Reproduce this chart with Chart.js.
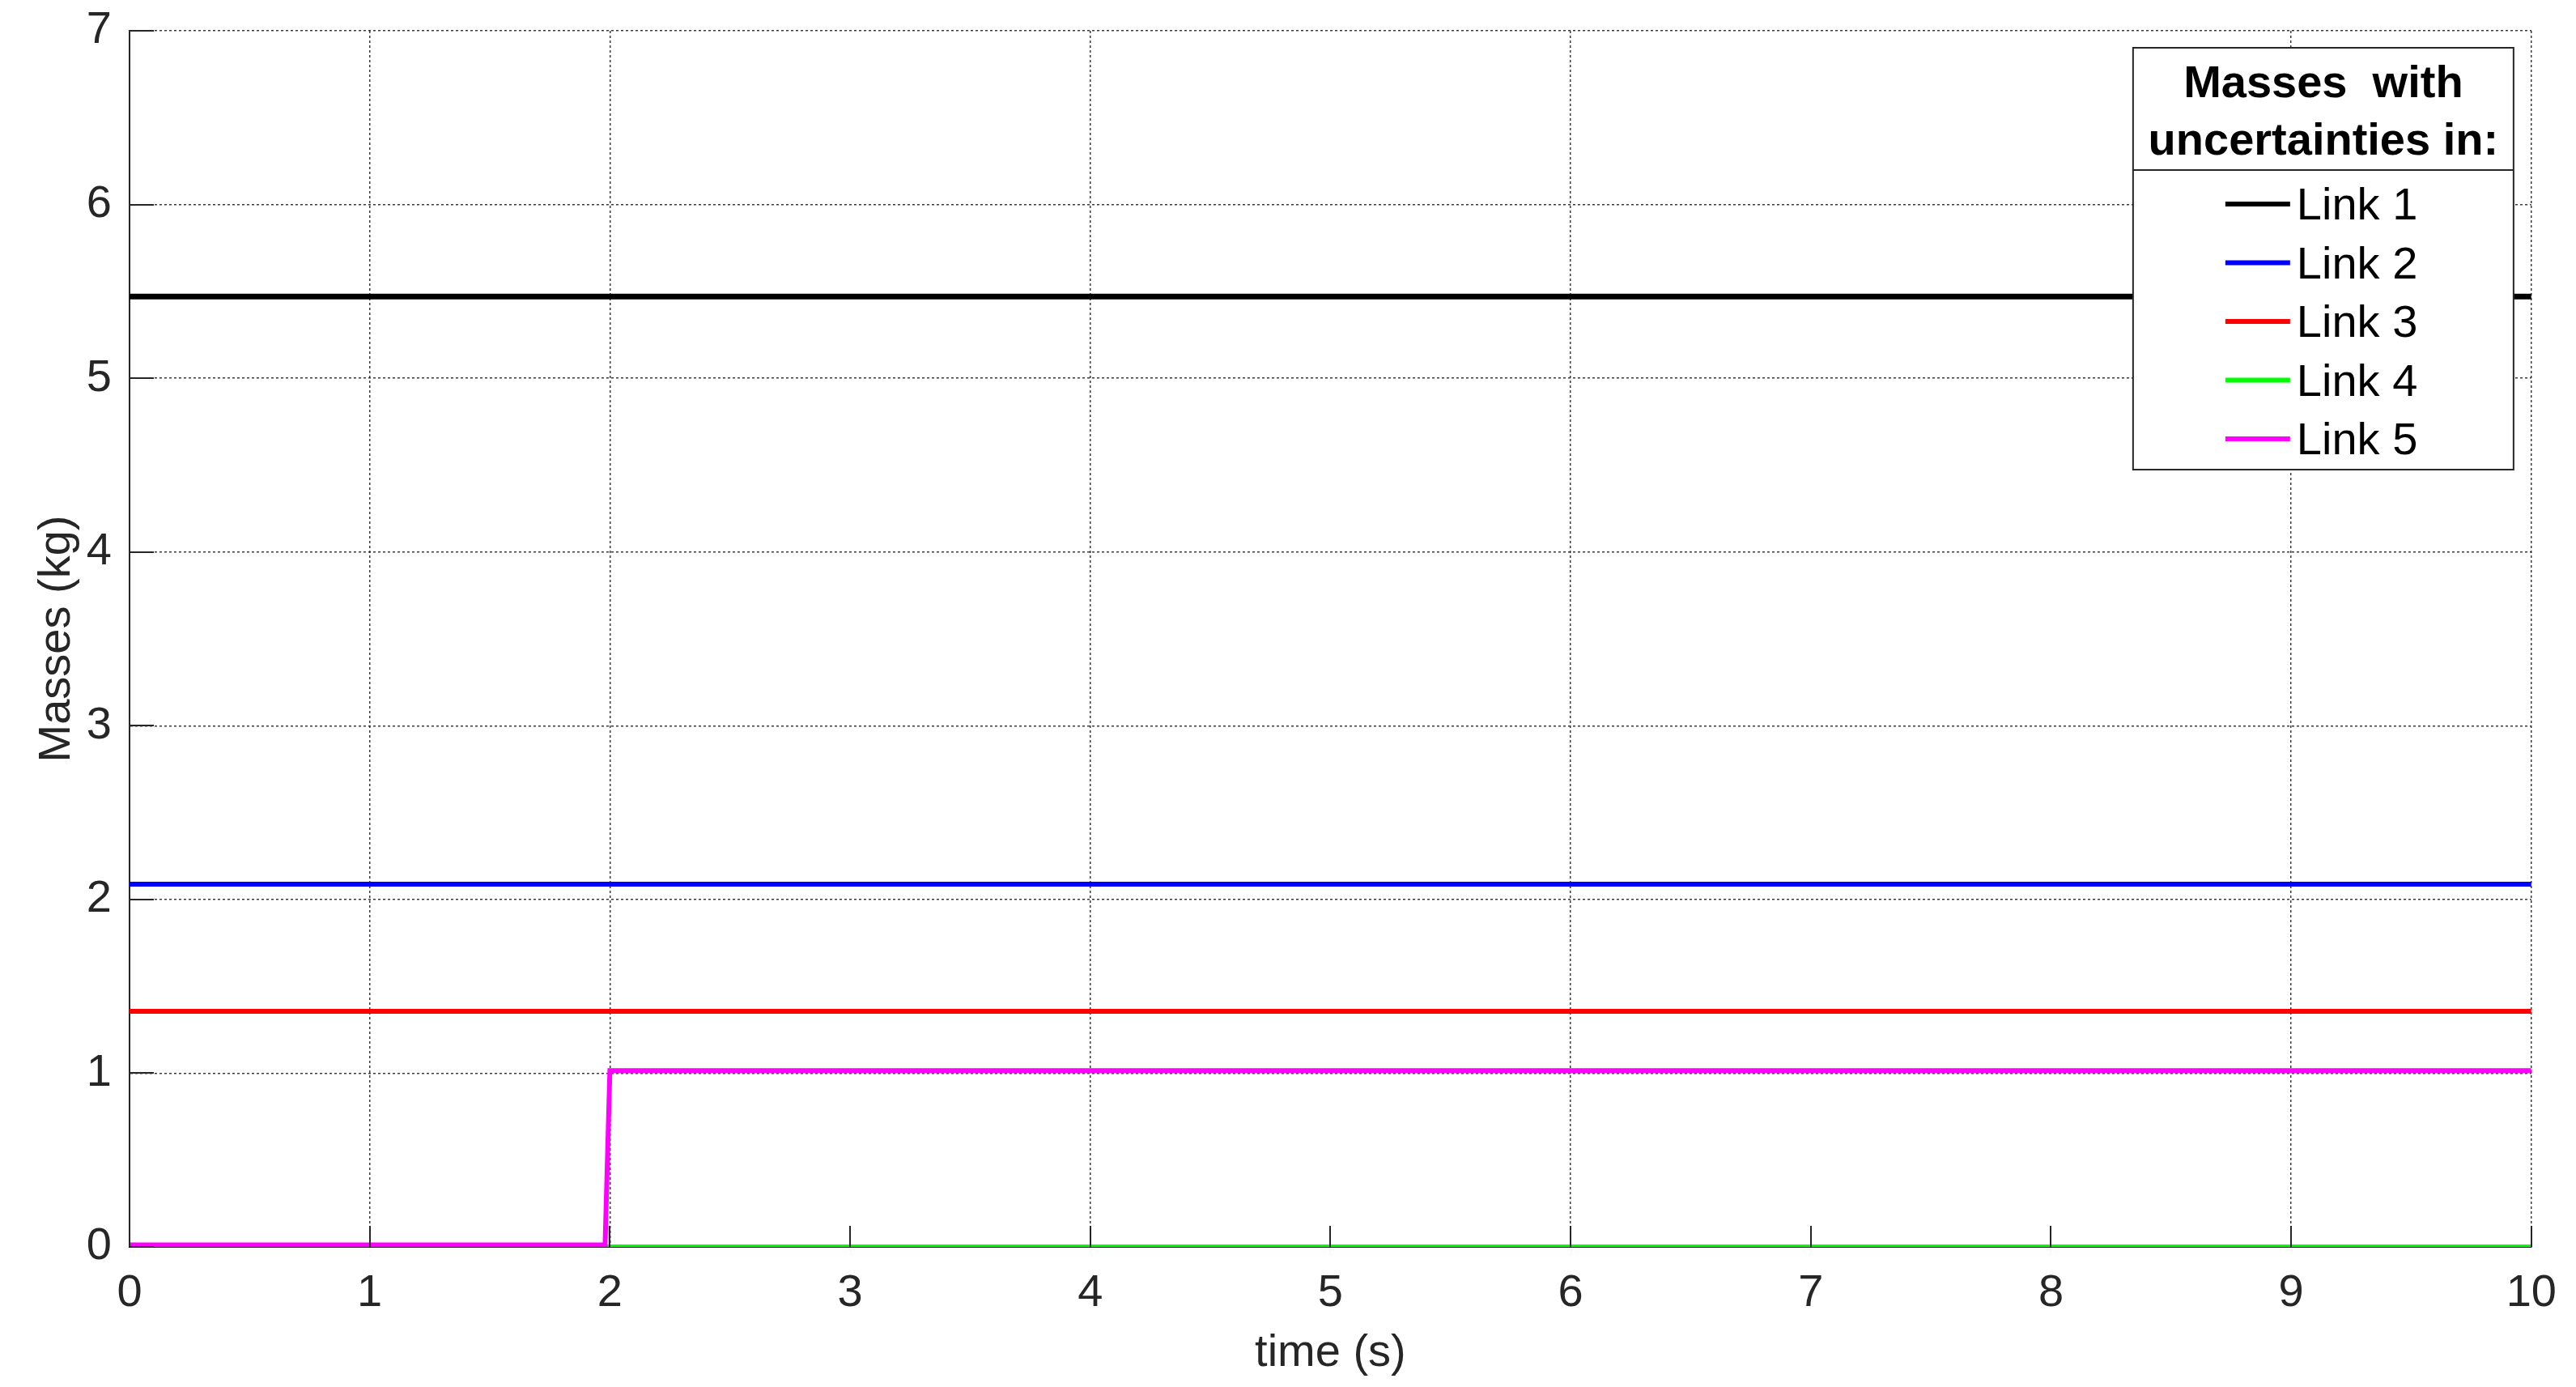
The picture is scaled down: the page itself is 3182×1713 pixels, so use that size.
<!DOCTYPE html>
<html>
<head>
  <title>Masses with uncertainties</title>
  <script src="https://cdn.jsdelivr.net/npm/chart.js"></script>
  <style>
    html, body { margin: 0; padding: 0; background: #fff; }
    #wrap { width: 3182px; height: 1713px; }
  </style>
</head>
<body>
  <div id="wrap"><canvas id="massChart" width="3182" height="1713"></canvas></div>

  <script>
    // data
    const linkLabels = ['Link 1', 'Link 2', 'Link 3', 'Link 4', 'Link 5'];
    const linkColors = ['#000000', '#0000ff', '#ff0000', '#00ff00', '#ff00ff'];
    const link1Time = [0, 10];
    const link1Mass = [5.47, 5.47];
    const link2Time = [0, 10];
    const link2Mass = [2.088, 2.088];
    const link3Time = [0, 10];
    const link3Mass = [1.356, 1.356];
    const link4Time = [0, 10];
    const link4Mass = [0, 0];
    const link5Time = [0, 1.98, 2.0, 10];
    const link5Mass = [0.012, 0.012, 1.015, 1.015];

    const xTicks = [0, 1, 2, 3, 4, 5, 6, 7, 8, 9, 10];
    const yTicks = [0, 1, 2, 3, 4, 5, 6, 7];
    const xGridShown = [1, 2, 4, 6, 9, 10]; // the vertical grid lines that show in the picture
    const legendTitle = ['Masses  with', 'uncertainties in:'];

    const FONT = '"Liberation Sans", Arial, sans-serif';
    const INK = '#262626';
    const GRID = 'rgba(38,38,38,0.9)';

    const toPoints = (t, m) => t.map((v, i) => ({ x: v, y: m[i] }));
    const series = [
      toPoints(link1Time, link1Mass),
      toPoints(link2Time, link2Mass),
      toPoints(link3Time, link3Mass),
      toPoints(link4Time, link4Mass),
      toPoints(link5Time, link5Mass)
    ];

    // MATLAB style ticks pointing into the axes
    const innerTicks = {
      id: 'innerTicks',
      afterDatasetsDraw(chart) {
        const c = chart.ctx, a = chart.chartArea;
        const xs = chart.scales.x, ys = chart.scales.y;
        c.save();
        c.strokeStyle = INK;
        c.lineWidth = 2;
        c.beginPath();
        xs.ticks.forEach(t => {
          const px = Math.round(xs.getPixelForValue(t.value));
          c.moveTo(px, a.bottom);
          c.lineTo(px, a.bottom - 26);
        });
        ys.ticks.forEach(t => {
          const py = Math.round(ys.getPixelForValue(t.value));
          c.moveTo(a.left, py);
          c.lineTo(a.left + 30, py);
        });
        c.stroke();
        c.restore();
      }
    };

    // boxed legend in the top right corner with a two-line bold title
    const boxLegend = {
      id: 'boxLegend',
      afterDatasetsDraw(chart) {
        const c = chart.ctx, a = chart.chartArea;
        const w = 470, h = 521;
        const left = a.right - 22 - w, top = a.top + 21;
        const cx = left + w / 2;
        c.save();
        c.fillStyle = '#fff';
        c.fillRect(left, top, w, h);
        c.strokeStyle = INK;
        c.lineWidth = 2;
        c.strokeRect(left, top, w, h);
        c.beginPath();
        c.moveTo(left, top + 151);
        c.lineTo(left + w, top + 151);
        c.stroke();

        c.fillStyle = '#000';
        c.textAlign = 'center';
        c.textBaseline = 'middle';
        c.font = 'bold 56px ' + FONT;
        legendTitle.forEach((line, i) => c.fillText(line, cx, top + 46 + i * 71));

        c.font = '56px ' + FONT;
        c.textAlign = 'left';
        chart.data.datasets.forEach((ds, i) => {
          const y = top + 193 + i * 72.5;
          c.strokeStyle = ds.borderColor;
          c.lineWidth = 6;
          c.beginPath();
          c.moveTo(left + 114, y);
          c.lineTo(left + 194, y);
          c.stroke();
          c.fillText(ds.label, left + 202, y + 4);
        });
        c.restore();
      }
    };

    const ctx = document.getElementById('massChart').getContext('2d');
    const massChart = new Chart(ctx, {
      type: 'line',
      data: {
        datasets: linkLabels.map((lab, i) => ({
          label: lab,
          data: series[i],
          borderColor: linkColors[i],
          backgroundColor: linkColors[i],
          borderWidth: i === 0 ? 7 : 6,
          pointRadius: 0,
          tension: 0,
          fill: false,
          order: linkLabels.length - i
        }))
      },
      options: {
        responsive: false,
        animation: false,
        events: [],
        layout: { padding: { top: 38, right: 53, bottom: 8, left: 0 } },
        plugins: {
          legend: { display: false },
          tooltip: { enabled: false }
        },
        scales: {
          x: {
            type: 'linear',
            min: 0,
            max: 10,
            afterBuildTicks: s => { s.ticks = xTicks.map(v => ({ value: v })); },
            afterFit: s => { s.height = 165; },
            ticks: {
              color: INK,
              font: { family: FONT, size: 56 },
              padding: 24,
              maxRotation: 0
            },
            grid: {
              drawTicks: false,
              lineWidth: 1.5,
              color: c => xGridShown.includes(c.tick && c.tick.value) ? GRID : 'rgba(0,0,0,0)'
            },
            border: { display: true, color: INK, width: 2, dash: [3, 3] },
            title: {
              display: true,
              text: 'time (s)',
              color: INK,
              font: { family: FONT, size: 56 },
              padding: { top: 0, bottom: 0 }
            }
          },
          y: {
            type: 'linear',
            min: 0,
            max: 7,
            afterBuildTicks: s => { s.ticks = yTicks.map(v => ({ value: v })); },
            afterFit: s => { s.width = 160; s.paddingTop = 0; s.paddingBottom = 0; },
            ticks: {
              color: INK,
              font: { family: FONT, size: 56 },
              padding: 22
            },
            grid: {
              drawTicks: false,
              lineWidth: 1.5,
              color: c => (c.tick && c.tick.value > 0) ? GRID : 'rgba(0,0,0,0)'
            },
            border: { display: true, color: INK, width: 2, dash: [3, 3] },
            title: {
              display: true,
              text: 'Masses (kg)',
              color: INK,
              font: { family: FONT, size: 56 },
              padding: { top: 37, bottom: 0 }
            }
          }
        }
      },
      plugins: [innerTicks, boxLegend]
    });
  </script>
</body>
</html>
